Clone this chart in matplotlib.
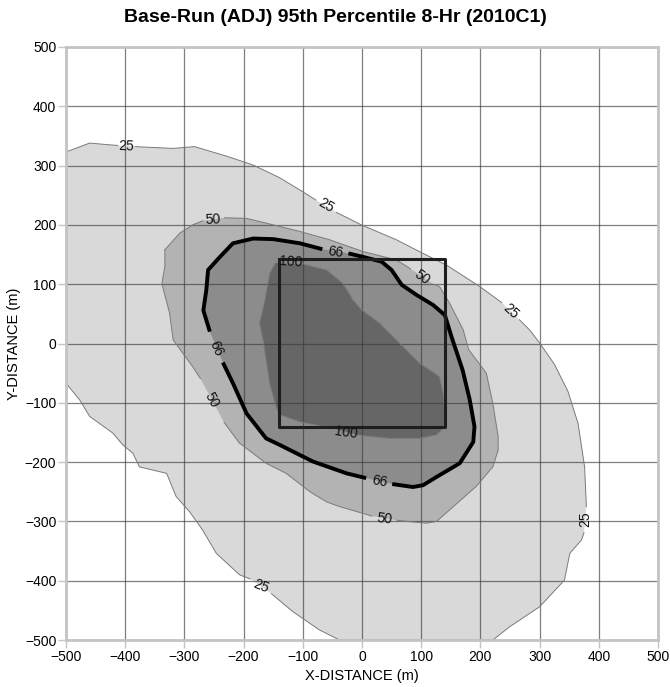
import matplotlib
matplotlib.use("Agg")
import matplotlib.pyplot as plt

plt.rcParams['font.family'] = ['Liberation Sans', 'DejaVu Sans']

# contour outlines (x, y in metres), split into arcs where the labels sit
c25_arcs = [
    [(-500, 323), (-460, 338), (-426, 335), (-413, 334)],
    [(-383, 332), (-319, 329), (-283, 332), (-229, 316), (-184, 301), (-140, 280), (-105, 259), (-78, 242)],
    [(-43, 221), (-1, 200), (58, 175), (97, 155), (143, 132), (199, 96), (236, 69)],
    [(266, 40), (283, 23), (300, 1), (325, -35), (348, -81), (365, -135), (376, -208), (379, -275)],
    [(375, -319), (371, -331), (351, -354), (342, -399), (300, -444), (249, -478), (221, -500),
     (-38, -500), (-72, -483), (-117, -452), (-153, -422)],
    [(-189, -397), (-207, -390), (-246, -354), (-269, -315), (-291, -284), (-314, -258), (-330, -219),
     (-376, -208), (-387, -185), (-404, -171), (-421, -151), (-460, -123), (-477, -95), (-500, -67)],
]
c50_arcs = [
    [(-333, 158), (-308, 186), (-286, 200), (-269, 207)],
    [(-232, 212), (-195, 211), (-162, 203), (-105, 189), (-55, 175), (2, 155), (58, 141), (82, 126)],
    [(121, 100), (131, 96), (148, 68), (171, 23), (180, -10), (210, -50), (221, -101), (230, -157),
     (230, -180), (221, -208), (193, -241), (160, -270), (126, -300), (109, -303), (75, -300), (59, -298)],
    [(17, -291), (-38, -275), (-60, -267), (-88, -250), (-128, -219), (-162, -202), (-207, -168), (-233, -133)],
    [(-273, -59), (-286, -39), (-319, 6), (-325, 51), (-338, 101), (-333, 130), (-333, 158)],
]
c66_arcs = [
    [(-257, 20), (-268, 56), (-263, 90), (-260, 124), (-240, 146), (-218, 169), (-184, 177),
     (-150, 176), (-105, 169), (-67, 159)],
    [(-23, 152), (2, 146), (33, 138), (50, 124), (67, 99), (92, 82), (120, 65), (140, 48), (151, 12),
     (170, -45), (182, -95), (190, -140), (188, -166), (165, -202), (126, -225), (103, -239),
     (86, -242), (51, -237)],
    [(7, -227), (-26, -219), (-83, -199), (-139, -171), (-162, -160), (-195, -118), (-218, -67), (-235, -32)],
]
c100_arcs = [
    [(-164, 73), (-156, 118), (-146, 136)],
    [(-96, 133), (-60, 124), (-32, 101), (-15, 73), (-1, 57), (30, 34), (52, 12), (97, -33),
     (131, -56), (137, -84), (140, -118), (140, -140), (126, -154), (97, -160), (47, -160), (-3, -155)],
    [(-50, -143), (-105, -132), (-139, -120), (-145, -107), (-156, -67), (-167, 6), (-173, 34), (-164, 73)],
]

# label position and rotation
c25_labels = [(-398, 333, -2), (-60, 232, -30), (251, 55, -42), (377, -297, 90), (-171, -409, -22)]
c50_labels = [(-251, 209, 3), (101, 112, -36), (38, -295, -6), (-254, -96, -62)]
c66_labels = [(-45, 154, -8), (29, -232, -10), (-246, -8, -66)]
c100_labels = [(-121, 137, -4), (-27, -150, -8)]

levels = ["25", "50", "66", "100"]
fills = ["#d9d9d9", "#b3b3b3", "#8c8c8c", "#666666"]

# source area
box_x = [-141, 141, 141, -141, -141]
box_y = [142, 142, -141, -141, 142]

fig = plt.figure(figsize=(6.7, 6.87), dpi=100)
ax = fig.add_axes([66 / 670, 47 / 687, 592 / 670, 593 / 687])

all_arcs = [c25_arcs, c50_arcs, c66_arcs, c100_arcs]
all_labels = [c25_labels, c50_labels, c66_labels, c100_labels]

for arcs, col in zip(all_arcs, fills):
    pts = [p for arc in arcs for p in arc]
    ax.fill([p[0] for p in pts], [p[1] for p in pts], color=col, lw=0, zorder=1)

for i, arcs in enumerate(all_arcs):
    for arc in arcs:
        if levels[i] == "66":
            ax.plot([p[0] for p in arc], [p[1] for p in arc], color="black", lw=2.8,
                    solid_capstyle="butt", solid_joinstyle="round", zorder=3)
        else:
            ax.plot([p[0] for p in arc], [p[1] for p in arc], color="#7a7a7a", lw=0.7, zorder=2)

for lev, labs in zip(levels, all_labels):
    for x, y, rot in labs:
        ax.text(x, y, lev, fontsize=10, rotation=rot, ha="center", va="center",
                rotation_mode="anchor", color="#111111", zorder=5)

ax.plot(box_x, box_y, color="#1e1e1e", lw=2.2, zorder=4)

ax.set_xlim(-500, 500)
ax.set_ylim(-500, 500)
ax.set_xticks(range(-500, 501, 100))
ax.set_yticks(range(-500, 501, 100))
ax.set_axisbelow("line")
ax.grid(True, color="#3a3a3a", alpha=0.65, lw=0.9)
for s in ax.spines.values():
    s.set_color("#c4c4c4")
    s.set_linewidth(2)
    s.set_zorder(6)
ax.tick_params(direction="out", length=6, width=1, color="#c4c4c4", labelsize=10, pad=1)

ax.set_xlabel("X-DISTANCE (m)", fontsize=10.5, labelpad=4)
ax.set_ylabel("Y-DISTANCE (m)", fontsize=10.5, labelpad=3)
fig.text(0.5, 1 - 18 / 687, "Base-Run (ADJ) 95th Percentile 8-Hr (2010C1)", ha="center", va="center",
         fontsize=14, fontweight="bold")

fig.savefig("out.png", dpi=100)
